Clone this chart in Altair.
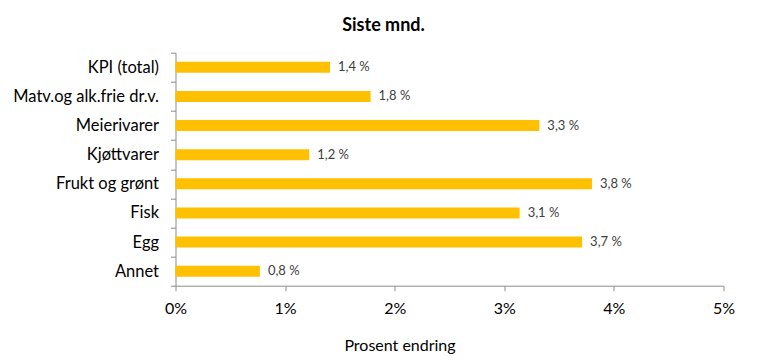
import altair as alt
import pandas as pd

categories = ["KPI (total)", "Matv.og alk.frie dr.v.", "Meierivarer", "Kjøttvarer",
              "Frukt og grønt", "Fisk", "Egg", "Annet"]
values = [1.41, 1.78, 3.32, 1.22, 3.80, 3.14, 3.71, 0.77]
value_labels = ["1,4 %", "1,8 %", "3,3 %", "1,2 %", "3,8 %", "3,1 %", "3,7 %", "0,8 %"]
x_ticks = [0, 1, 2, 3, 4, 5]

df = pd.DataFrame({"cat": categories, "val": values, "lab": value_labels})

FONT = "Lato"
AXIS_GRAY = "#8c8c8c"

y_enc = alt.Y(
    "cat:N", sort=categories,
    scale=alt.Scale(paddingInner=0, paddingOuter=0),
    axis=alt.Axis(title=None, tickBand="extent", tickSize=5, labelPadding=12,
                  labelFontSize=16.5, labelFont=FONT, labelColor="#000000",
                  domainColor=AXIS_GRAY, tickColor=AXIS_GRAY, labelLimit=300),
)

base = alt.Chart(df).encode(y=y_enc)

bars = base.mark_bar(size=11, color="#FFC000").encode(
    x=alt.X("val:Q", scale=alt.Scale(domain=[0, 5], nice=False),
            axis=alt.Axis(values=x_ticks, labelExpr="datum.value + '%'", grid=False,
                          labelFlush=False,
                          tickSize=5, labelPadding=10, labelFontSize=16, labelFont=FONT,
                          labelColor="#000000", domainColor=AXIS_GRAY, tickColor=AXIS_GRAY,
                          title="Prosent endring", titleFont=FONT, titleFontSize=16,
                          titleFontWeight="normal", titleColor="#000000",
                          titleX=224, titleY=60, titleBaseline="middle")),
)

text = base.mark_text(align="left", dx=8, fontSize=13, font=FONT, color="#404040").encode(
    x=alt.X("val:Q"), text="lab:N"
)

chart = (
    alt.layer(bars, text)
    .properties(
        width=548, height=233,
        title=alt.TitleParams("Siste mnd.", fontSize=18, fontWeight="bold", font=FONT,
                              color="#000000", dx=-66, offset=10),
        autosize=alt.AutoSizeParams(type="none"),
        padding={"left": 167.5, "top": 44.7, "right": 36, "bottom": 68},
    )
    .configure_view(stroke=None)
)

chart.save("out.html", embed_options={"renderer": "svg", "actions": False})
